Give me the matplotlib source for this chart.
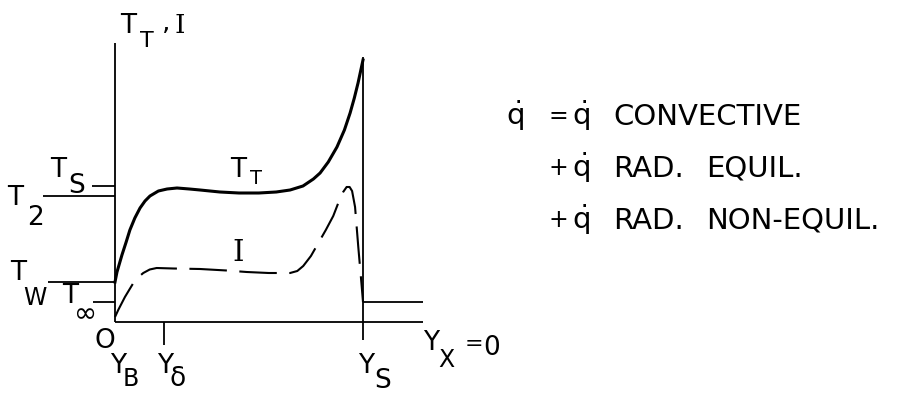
"""Schematic: total temperature and radiation intensity across the shock layer."""

import matplotlib
matplotlib.use('Agg')
import matplotlib.pyplot as plt

plt.rcParams['font.family'] = ['DejaVu Sans']
plt.rcParams['mathtext.fontset'] = 'dejavusans'

W, H = 912, 404

# Y / Y_S across the layer (0 = body, 1 = shock) and the profiles, in arbitrary level units
tt_x = [0.000, 0.008, 0.028, 0.045, 0.060, 0.080, 0.101, 0.121, 0.141, 0.175, 0.210,
        0.250, 0.300, 0.343, 0.423, 0.500, 0.580, 0.650, 0.706, 0.758, 0.800, 0.827,
        0.860, 0.895, 0.925, 0.948, 0.965, 0.980, 1.000]
tt_y = [0.40, 0.50, 0.67, 0.80, 0.92, 1.04, 1.14, 1.21, 1.26, 1.31, 1.33,
        1.34, 1.33, 1.32, 1.30, 1.29, 1.29, 1.30, 1.32, 1.36, 1.43, 1.49,
        1.60, 1.75, 1.92, 2.09, 2.24, 2.39, 2.62]

i_x = [0.000, 0.013, 0.040, 0.074, 0.095, 0.114, 0.140, 0.168, 0.235, 0.343, 0.450,
       0.531, 0.620, 0.706, 0.735, 0.759, 0.790, 0.820, 0.850, 0.880, 0.905, 0.920,
       0.934, 0.946, 0.956, 0.968, 0.981, 0.995, 1.000]
i_y = [0.05, 0.12, 0.25, 0.39, 0.45, 0.49, 0.525, 0.54, 0.535, 0.53, 0.515,
       0.50, 0.49, 0.49, 0.51, 0.56, 0.66, 0.79, 0.92, 1.06, 1.22, 1.30,
       1.35, 1.35, 1.31, 1.15, 0.75, 0.35, 0.20]

# reference levels on the left axis
level_vals = [1.36, 1.26, 0.40, 0.20]          # T_S, T_2, T_W, T_inf
level_start = [-0.093, -0.29, -0.27, -0.089]    # where each tick line begins
y_delta = 0.198
y_shock = 1.0
t_inf_right = 0.20

# heat flux breakdown, one row per term
flux_signs = ['=', '+', '+']
flux_words = [['CONVECTIVE'], ['RAD.', 'EQUIL.'], ['RAD.', 'NON-EQUIL.']]

fig = plt.figure(figsize=(W / 100, H / 100), dpi=100)
ax = fig.add_axes([0, 0, 1, 1])
ax.set_xlim(-115 / 248, (W - 115) / 248)
ax.set_ylim((322 - H) / 100, 322 / 100)
ax.axis('off')

k = dict(color='black', lw=1.3, solid_capstyle='butt')
ax.plot([0, 0], [0, 2.79], **k)                        # T axis
ax.plot([0, 1.242], [0, 0], **k)                       # Y axis
ax.plot([y_shock, y_shock], [-0.18, 2.65], **k)        # shock
ax.plot([y_shock, 1.242], [t_inf_right] * 2, **k)      # free stream
ax.plot([y_delta, y_delta], [0, -0.23], **k)           # Y_delta tick
for v, x0 in zip(level_vals, level_start):
    ax.plot([x0, 0], [v, v], **k)

ax.plot(tt_x, tt_y, color='black', lw=2.2, solid_joinstyle='round')
ax.plot(i_x, i_y, color='black', lw=1.5, linestyle=(0, (18, 6)))


def put(s, x, y, size=19, **kw):
    """Text with its left edge at x and baseline at y, in figure pixels."""
    fig.text(x / W, 1 - y / H, s, fontsize=size, ha='left', va='baseline', **kw)


serif = dict(family='DejaVu Serif')

# axis title
put('T', 120, 33)
put('T', 140, 47, 16)
put(',', 162, 30)
put('I', 175, 33, **serif)

# curve labels
put('T', 230, 177)
put('T', 250, 184, 14)
put('I', 232, 261, 21, **serif)

# levels
put('T', 50, 177)
put('S', 68, 193)
put('2', 27, 225)
put('T', 7, 205)
put('T', 10, 280)
put('W', 23, 305, 17)
put('T', 62, 303)
put('\u221e', 74, 322, 20)

# abscissa
put('O', 95, 348)
put('Y', 110, 373)
put('B', 123, 386, 17)
put('Y', 157, 373)
put('\u03b4', 170, 386)
put('Y', 358, 373)
put('S', 374, 388)
put('Y', 423, 350)
put('X', 438, 367, 17)
put('=', 465, 350, 16)
put('0', 483, 355)

# heat flux breakdown
q = r'$\dot{\mathrm{q}}$'
word_x = [613, 706]
put(q, 506, 125, 21)
for row, (sign, words) in enumerate(zip(flux_signs, flux_words)):
    base = 125 + row * 52
    put(sign, 549, base - 2, 17)
    put(q, 572, base, 21)
    for x, w in zip(word_x, words):
        put(w, x, base, 21)

fig.savefig('out.png', dpi=100)
